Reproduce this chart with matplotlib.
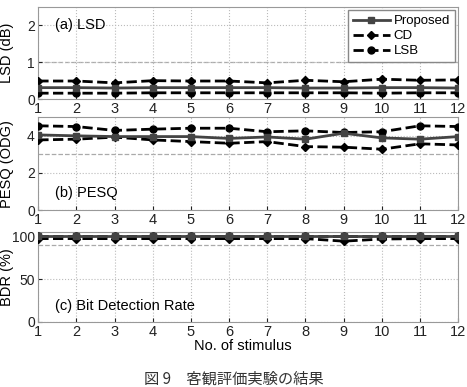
import numpy as np
import matplotlib.pyplot as plt

stimulus = np.arange(1, 13)

lsd_proposed = [0.31, 0.31, 0.30, 0.31, 0.31, 0.31, 0.31, 0.30, 0.30, 0.31, 0.31, 0.30]
lsd_cd = [0.49, 0.49, 0.44, 0.50, 0.49, 0.49, 0.44, 0.51, 0.47, 0.54, 0.51, 0.52]
lsd_lsb = [0.16, 0.16, 0.16, 0.17, 0.17, 0.17, 0.17, 0.17, 0.17, 0.16, 0.17, 0.17]

pesq_proposed = [4.05, 4.00, 3.96, 3.96, 3.96, 3.86, 3.94, 3.82, 4.14, 3.89, 3.82, 3.96]
pesq_cd = [3.78, 3.82, 3.93, 3.78, 3.69, 3.60, 3.69, 3.42, 3.39, 3.28, 3.57, 3.51]
pesq_lsb = [4.54, 4.50, 4.29, 4.36, 4.41, 4.41, 4.22, 4.27, 4.18, 4.22, 4.54, 4.50]

bdr_proposed = [100, 100, 100, 100, 100, 100, 100, 100, 100, 100, 100, 100]
bdr_cd = [97.5, 97.5, 97.5, 97.5, 97.5, 97.5, 97.5, 97.5, 94.5, 97.0, 97.5, 97.5]
bdr_lsb = [100, 100, 100, 100, 100, 100, 100, 100, 100, 100, 100, 100]

ylabels = ["LSD (dB)", "PESQ (ODG)", "BDR (%)"]
titles = ["(a) LSD", "(b) PESQ", "(c) Bit Detection Rate"]
thresholds = [1, 3, 90]
ylims = [(0, 2.5), (0, 5), (0, 105)]
yticks = [[0, 1, 2], [0, 2, 4], [0, 50, 100]]

plt.rcParams['font.family'] = ['Liberation Sans', 'DejaVu Sans']

fig = plt.figure(figsize=(4.67, 3.87), dpi=100)
left, width = 0.082, 0.899
boxes = [(0.744, 0.238), (0.457, 0.240), (0.168, 0.232)]
data = [(lsd_proposed, lsd_cd, lsd_lsb),
        (pesq_proposed, pesq_cd, pesq_lsb),
        (bdr_proposed, bdr_cd, bdr_lsb)]
text_y = [0.80, 0.18, 0.18]

for i in range(3):
    ax = fig.add_axes([left, boxes[i][0], width, boxes[i][1]])
    prop, cd, lsb = data[i]
    ax.axhline(thresholds[i], color='#aaaaaa', ls='--', lw=0.9, zorder=1)
    ax.plot(stimulus, prop, '-s', color='#444444', lw=2, ms=4.5, label='Proposed', zorder=4)
    ax.plot(stimulus, cd, '--D', color='black', lw=2, ms=4.5, label='CD', zorder=3)
    ax.plot(stimulus, lsb, '--o', color='black', lw=2, ms=5, label='LSB', zorder=3)
    ax.set_xlim(1, 12)
    ax.set_ylim(*ylims[i])
    ax.set_xticks(stimulus)
    ax.set_yticks(yticks[i])
    ax.grid(True, ls=':', color='#bbbbbb', lw=0.8)
    ax.tick_params(direction='in', length=3, labelsize=10.5, pad=2, colors='#222222')
    ax.tick_params(axis='y', labelsize=10, pad=2.5)
    for s in ax.spines.values():
        s.set_color('#999999')
    ax.set_ylabel(ylabels[i], fontsize=10.5)
    ax.yaxis.set_label_coords(-0.057, 0.5)
    ax.text(0.04, text_y[i], titles[i], transform=ax.transAxes, fontsize=10.5, va='center')
    if i == 0:
        ax.legend(loc='upper right', fontsize=9.5, handlelength=2.8, borderpad=0.35,
                  labelspacing=0.22, handletextpad=0.3, fancybox=False,
                  edgecolor='#888888', framealpha=1, borderaxespad=0.25)

fig.text(0.52, 0.106, "No. of stimulus", ha='center', va='center', fontsize=10.5)
fig.text(0.5, 0.02, "図 9　客観評価実験の結果", ha='center', va='center', fontsize=11,
         family=['Noto Sans CJK JP', 'DejaVu Sans'], color='#333333')

fig.savefig("out.png", dpi=100)
